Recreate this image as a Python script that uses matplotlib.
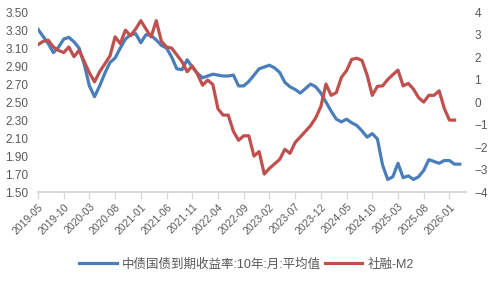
import numpy as np
import matplotlib
matplotlib.use("Agg")
import matplotlib.pyplot as plt
from matplotlib.lines import Line2D

plt.rcParams['font.family'] = ['Liberation Sans', 'Noto Sans CJK SC', 'DejaVu Sans']

# monthly, starting 2019-05
start_year, start_month = 2019, 5

bond_10y = [3.31, 3.23, 3.15, 3.05, 3.11, 3.20, 3.22, 3.17, 3.10, 2.92,
            2.68, 2.56, 2.68, 2.82, 2.94, 2.99, 3.10, 3.20, 3.25, 3.26,
            3.16, 3.25, 3.24, 3.19, 3.13, 3.10, 3.00, 2.87, 2.86, 2.97,
            2.89, 2.82, 2.77, 2.79, 2.81, 2.80, 2.79, 2.79, 2.80, 2.68,
            2.68, 2.73, 2.80, 2.87, 2.89, 2.91, 2.88, 2.83, 2.72, 2.67,
            2.64, 2.60, 2.65, 2.70, 2.67, 2.60, 2.50, 2.40, 2.31, 2.28,
            2.31, 2.27, 2.24, 2.18, 2.11, 2.15, 2.09, 1.80, 1.64, 1.67,
            1.82, 1.66, 1.68, 1.64, 1.67, 1.74, 1.86, 1.84, 1.82, 1.85,
            1.85, 1.81, 1.81]

tsf_m2 = [2.55, 2.70, 2.75, 2.45, 2.30, 2.20, 2.45, 2.02, 2.30, 1.80,
          1.30, 0.90, 1.35, 1.70, 2.05, 2.90, 2.60, 3.20, 2.95, 3.25,
          3.62, 3.25, 2.90, 3.62, 2.70, 2.45, 2.40, 2.10, 1.80, 1.35,
          1.60, 1.25, 0.75, 0.98, 0.78, -0.30, -0.58, -0.58, -1.30, -1.70,
          -1.50, -1.50, -2.40, -2.20, -3.20, -2.95, -2.75, -2.55, -2.10, -2.28,
          -1.80, -1.55, -1.30, -1.05, -0.70, -0.20, 0.80, 0.30, 0.42, 1.10,
          1.40, 1.90, 1.95, 1.85, 1.20, 0.30, 0.70, 0.72, 1.00, 1.22,
          1.42, 0.72, 0.83, 0.58, 0.20, 0.00, 0.30, 0.30, 0.50, -0.28,
          -0.80, -0.80]

left_ticks = [1.50, 1.70, 1.90, 2.10, 2.30, 2.50, 2.70, 2.90, 3.10, 3.30, 3.50]
right_ticks = [-4, -3, -2, -1, 0, 1, 2, 3, 4]

label_bond = "中债国债到期收益率:10年:月:平均值"
label_tsf = "社融-M2"

blue = "#4a7ebb"
red = "#c0504d"
grey = "#595959"

# x tick labels every 5 months
xt = list(range(0, 84, 5))
xlabels = []
for k in xt:
    m = start_month - 1 + k
    xlabels.append("%d-%02d" % (start_year + m // 12, m % 12 + 1))

fig = plt.figure(figsize=(4.93, 2.82), dpi=100)
ax = fig.add_axes([0.077, 0.319, 0.868, 0.638])
ax2 = ax.twinx()

ax.plot(np.arange(len(bond_10y)), bond_10y, color=blue, lw=2.3, solid_joinstyle='round')
ax2.plot(np.arange(len(tsf_m2)), tsf_m2, color=red, lw=2.3, solid_joinstyle='round')

ax.set_xlim(0, 83.2)
ax.set_ylim(1.5, 3.5)
ax2.set_ylim(-4, 4)

ax.set_yticks(left_ticks)
ax.set_yticklabels(["%.2f" % v for v in left_ticks])
ax2.set_yticks(right_ticks)

ax.set_xticks(xt)
ax.set_xticklabels(xlabels, rotation=45, ha='right', va='top', rotation_mode='anchor')

for a in (ax, ax2):
    for s in ('top', 'left', 'right', 'bottom'):
        a.spines[s].set_visible(False)
ax.spines['bottom'].set_visible(True)
ax.spines['bottom'].set_color('#d9d9d9')
ax.spines['bottom'].set_linewidth(1.5)

ax.tick_params(axis='x', length=5, width=1, color='#d9d9d9', labelsize=7.5, labelcolor=grey, pad=2)
ax.tick_params(axis='y', length=0, labelsize=8.5, labelcolor=grey, pad=7)
ax2.tick_params(axis='y', length=0, labelsize=8.5, labelcolor=grey, pad=6)

handles = [Line2D([], [], color=blue, lw=2.3), Line2D([], [], color=red, lw=2.3)]
fig.legend(handles, [label_bond, label_tsf], loc='lower center', bbox_to_anchor=(0.5, 0.0),
           ncol=2, frameon=False, fontsize=9, handlelength=3, handletextpad=0.4,
           columnspacing=0.3, labelcolor=grey)

fig.savefig("out.png", dpi=100)
